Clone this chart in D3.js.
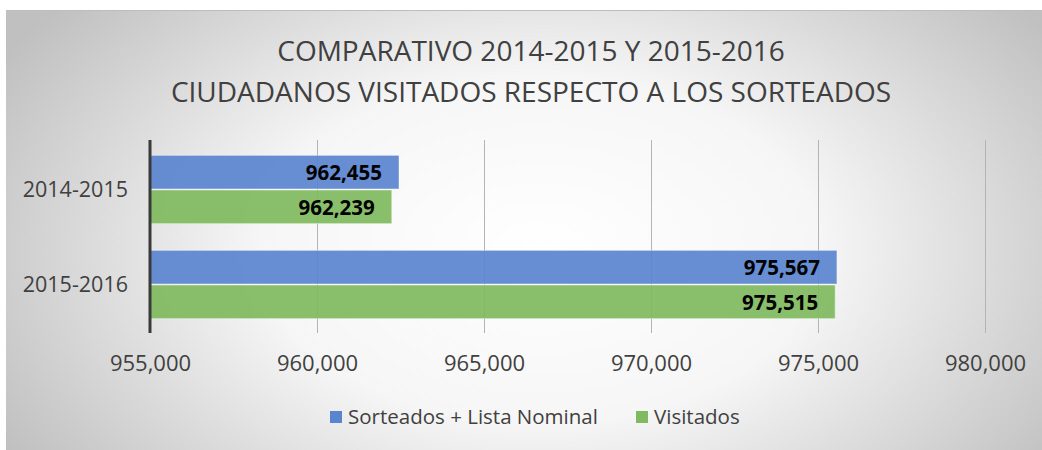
<!DOCTYPE html>
<html><head><meta charset="utf-8">
<script src="https://cdn.jsdelivr.net/npm/d3@7"></script>
<style>html,body{margin:0;padding:0;background:#fff;}svg{display:block;}</style>
</head><body>
<script>
const categories = ["2014-2015", "2015-2016"];
const seriesNames = ["Sorteados + Lista Nominal", "Visitados"];
const sorteados = [962455, 975567];
const visitados = [962239, 975515];
const xTicks = [955000, 960000, 965000, 970000, 975000, 980000];
const titleLines = ["COMPARATIVO 2014-2015 Y 2015-2016", "CIUDADANOS VISITADOS RESPECTO A LOS SORTEADOS"];
const colors = ["#5b84cf", "#80ba60"];

const W = 1042, H = 450;
const font = "'Open Sans', 'Noto Sans', sans-serif";
const svg = d3.select("body").append("svg").attr("width", W).attr("height", H);
const defs = svg.append("defs");
const rg = defs.append("radialGradient").attr("id", "bg")
  .attr("gradientUnits", "userSpaceOnUse")
  .attr("cx", 540).attr("cy", 250).attr("r", 620)
  .attr("gradientTransform", "translate(540,250) scale(1,0.62) translate(-540,-250)");
rg.append("stop").attr("offset", "0%").attr("stop-color", "#ffffff");
rg.append("stop").attr("offset", "45%").attr("stop-color", "#f6f6f6");
rg.append("stop").attr("offset", "100%").attr("stop-color", "#c0c0c0");

svg.append("rect").attr("x", 6).attr("y", 10).attr("width", W - 6).attr("height", H - 10).attr("fill", "url(#bg)");
svg.append("line").attr("x1", 6).attr("x2", W).attr("y1", 10.5).attr("y2", 10.5).attr("stroke", "#bdbdbd");

const x = d3.scaleLinear().domain([955000, 980000]).range([150, 985]);
const y = d3.scaleBand().domain(categories).range([142.5, 332.5]);
const inner = d3.scaleBand().domain(seriesNames).range([0, y.bandwidth()]).paddingInner(0).paddingOuter(0.37);

// gridlines
svg.append("g").selectAll("line").data(xTicks.slice(1)).join("line")
  .attr("x1", d => Math.round(x(d)) + 0.5).attr("x2", d => Math.round(x(d)) + 0.5)
  .attr("y1", 140).attr("y2", 333).attr("stroke", "#b4b4b4").attr("stroke-width", 1);

// x axis tick labels
const xAxis = d3.axisBottom(x).tickValues(xTicks).tickFormat(d3.format(",")).tickSize(0).tickPadding(0);
const gx = svg.append("g").attr("transform", "translate(0,355)").call(xAxis);
gx.select(".domain").remove();
gx.selectAll("text").attr("font-family", font).attr("font-size", 22).attr("fill", "#404040").attr("dy", "0.72em");

// bars
const data = [];
categories.forEach((c, i) => {
  data.push({cat: c, s: seriesNames[0], v: sorteados[i], col: colors[0]});
  data.push({cat: c, s: seriesNames[1], v: visitados[i], col: colors[1]});
});
const bars = svg.append("g");
bars.selectAll("rect").data(data).join("rect")
  .attr("x", x(955000)).attr("y", d => y(d.cat) + inner(d.s))
  .attr("width", d => x(d.v) - x(955000)).attr("height", inner.bandwidth() - 1)
  .attr("fill", d => d.col).attr("fill-opacity", 0.93)
  .attr("stroke", "rgba(255,255,255,0.45)").attr("stroke-width", 1);

bars.selectAll("text").data(data).join("text")
  .attr("x", d => x(d.v) - 17).attr("y", d => y(d.cat) + inner(d.s) + inner.bandwidth() / 2)
  .attr("dy", "0.36em").attr("text-anchor", "end")
  .attr("font-family", font).attr("font-weight", "bold").attr("font-size", 20.5).attr("fill", "#000")
  .text(d => d3.format(",")(d.v));

// y axis
svg.append("line").attr("x1", 150).attr("x2", 150).attr("y1", 140).attr("y2", 333).attr("stroke", "#3a3a3a").attr("stroke-width", 3);
const yAxis = d3.axisLeft(y).tickSize(0).tickPadding(22);
const gy = svg.append("g").attr("transform", "translate(150,0)").call(yAxis);
gy.select(".domain").remove();
gy.selectAll("text").attr("font-family", font).attr("font-size", 21.5).attr("fill", "#404040");

// title
svg.append("g").selectAll("text").data(titleLines).join("text")
  .attr("x", 531).attr("y", (d, i) => 61 + i * 41).attr("text-anchor", "middle")
  .attr("font-family", font).attr("font-size", 28).attr("fill", "#404040").text(d => d);

// legend
const leg = svg.append("g");
const legX = [330, 636];
seriesNames.forEach((n, i) => {
  leg.append("rect").attr("x", legX[i]).attr("y", 411).attr("width", 12).attr("height", 12).attr("fill", colors[i]);
  leg.append("text").attr("x", legX[i] + 18).attr("y", 417).attr("dy", "0.36em")
    .attr("font-family", font).attr("font-size", 20.5).attr("fill", "#404040").text(n);
});
</script>
</body></html>
